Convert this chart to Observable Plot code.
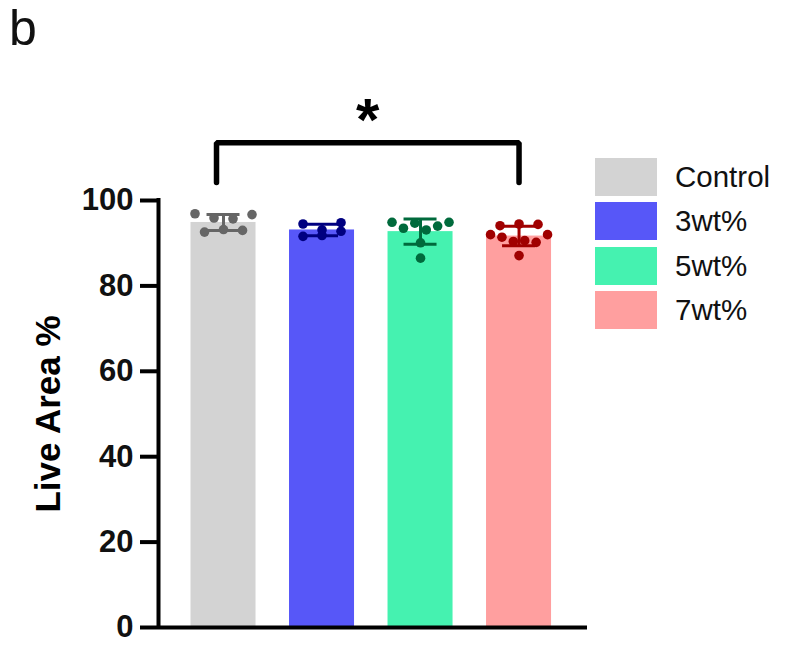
<!DOCTYPE html>
<html><head><meta charset="utf-8">
<script src="https://cdn.jsdelivr.net/npm/d3@7"></script>
<script src="https://cdn.jsdelivr.net/npm/@observablehq/plot@0.6"></script>
<style>
body{margin:0;background:#fff;font-family:Arial,"Liberation Sans",sans-serif;}
#wrap{position:relative;width:793px;height:646px;overflow:hidden;}
#wrap svg{position:absolute;left:0;top:0;}
.panel{position:absolute;left:9px;top:3px;font-size:50px;line-height:50px;color:#111;}
.legend{position:absolute;left:595px;top:158px;}
.item{display:flex;align-items:center;height:38px;margin-bottom:6.3px;}
.sw{width:62px;height:38px;margin-right:18px;}
.lab{font-size:29.5px;color:#111;}
</style></head>
<body><div id="wrap"></div>
<script>
// ---- data ----
const groups = ["Control", "3wt%", "5wt%", "7wt%"];
const barColors = ["#d3d3d3", "#5757f8", "#45f2b0", "#ff9f9f"];
const dotColors = ["#666666", "#000080", "#006a3c", "#a00000"];
const controlValues = [96.9, 95.9, 95.7, 96.7, 92.6, 93.2, 93.0];
const wt3Values = [94.5, 91.6, 93.1, 94.8, 91.8, 92.8];
const wt5Values = [94.9, 93.5, 94.7, 93.1, 94.0, 94.9, 90.1, 86.5];
const wt7Values = [94.1, 94.5, 94.4, 92.0, 91.4, 90.4, 90.6, 90.2, 92.0, 87.1];
const yTicks = [0, 20, 40, 60, 80, 100];
const sigFrom = 0, sigTo = 3, sigLabel = "*";
const panelLabel = "b";
const yLabel = "Live Area %";

// ---- layout ----
const W = 793, H = 646, mL = 158, mR = 206, mT = 200, mB = 19;
const xDomain = [-0.66, 3.695];
const pxPerX = (W - mL - mR) / (xDomain[1] - xDomain[0]);

const valuesByGroup = [controlValues, wt3Values, wt5Values, wt7Values];

// stats
const stats = groups.map((g, i) => {
  const v = valuesByGroup[i];
  return {i, group: g, mean: d3.mean(v), sd: d3.deviation(v), fill: barColors[i], dot: dotColors[i]};
});

// scatter arrangement: rows of similar values spread horizontally
const points = [];
valuesByGroup.forEach((vals, i) => {
  const idx = vals.map((v, k) => ({v, k})).sort((a, b) => b.v - a.v || a.k - b.k);
  const rows = [];
  for (const p of idx) {
    const row = rows[rows.length - 1];
    if (row && row[0].v - p.v < 2.0) row.push(p); else rows.push([p]);
  }
  for (const row of rows) {
    row.sort((a, b) => a.k - b.k);
    const n = row.length;
    const step = n > 1 ? Math.min(19, 57 / (n - 1)) : 0;
    row.forEach((p, j) => {
      const offPx = (j - (n - 1) / 2) * step;
      points.push({i, value: p.v, off: offPx / pxPerX, dot: dotColors[i]});
    });
  }
});

const capHalf = 16.5 / pxPerX;
const caps = stats.flatMap(s => [
  {i: s.i, y: s.mean + s.sd, dot: s.dot},
  {i: s.i, y: s.mean - s.sd, dot: s.dot}
]);

const allMax = d3.max(valuesByGroup.flat());
const bracketLow = allMax + 7.3;
const bracketHigh = bracketLow + 9.3;
const bracketInset = 7 / pxPerX;
const bLeft = sigFrom - bracketInset, bRight = sigTo;
const bracket = [
  {x: bLeft, y: bracketLow}, {x: bLeft, y: bracketHigh},
  {x: bRight, y: bracketHigh}, {x: bRight, y: bracketLow}
];

const font = 'Arial, "Liberation Sans", sans-serif';

const chart = Plot.plot({
  width: W, height: H,
  marginLeft: mL, marginRight: mR, marginTop: mT, marginBottom: mB,
  style: {fontFamily: font, background: "transparent", color: "#111"},
  x: {domain: xDomain, axis: null},
  y: {domain: [0, 100], axis: null},
  color: {type: "identity"},
  marks: [
    Plot.rectY(stats, {x1: d => d.i - 0.33, x2: d => d.i + 0.33, y: "mean", fill: "fill"}),
    Plot.ruleX(stats, {x: "i", y1: d => d.mean - d.sd, y2: d => d.mean + d.sd, stroke: "dot", strokeWidth: 3}),
    Plot.ruleY(caps, {y: "y", x1: d => d.i - capHalf, x2: d => d.i + capHalf, stroke: "dot", strokeWidth: 3}),
    Plot.dot(points, {x: d => d.i + d.off, y: "value", r: 4.8, fill: "dot", stroke: null}),
    Plot.axisY({ticks: yTicks, tickSize: 18, tickPadding: 7, fontSize: 31, fontWeight: "bold", strokeWidth: 4, label: null, stroke: "#000", fill: "#111"}),
    Plot.ruleX([xDomain[0]], {y1: () => 0, y2: () => 100, strokeWidth: 4, stroke: "#000", strokeLinecap: "square"}),
    Plot.ruleY([0], {strokeWidth: 4, stroke: "#000"}),
    Plot.line(bracket, {x: "x", y: "y", strokeWidth: 5.5, stroke: "#000", strokeLinejoin: "miter", curve: "linear"}),
    Plot.text([sigLabel], {x: () => (bLeft + bRight) / 2, y: () => bracketHigh + 7, text: d => d, fontSize: 60, fontWeight: "bold", fill: "#000", dy: 8}),
    Plot.text([yLabel], {frameAnchor: "left", dx: -110, rotate: -90, textAnchor: "middle", text: d => d, fontSize: 35, fontWeight: "bold", fill: "#000"})
  ]
});

const wrap = document.getElementById("wrap");
wrap.appendChild(chart);

const pl = document.createElement("div");
pl.className = "panel";
pl.textContent = panelLabel;
wrap.appendChild(pl);

const lg = document.createElement("div");
lg.className = "legend";
groups.forEach((g, i) => {
  const it = document.createElement("div");
  it.className = "item";
  const sw = document.createElement("div");
  sw.className = "sw";
  sw.style.background = barColors[i];
  const lb = document.createElement("span");
  lb.className = "lab";
  lb.textContent = g;
  it.appendChild(sw); it.appendChild(lb);
  lg.appendChild(it);
});
wrap.appendChild(lg);
</script>
</body></html>
